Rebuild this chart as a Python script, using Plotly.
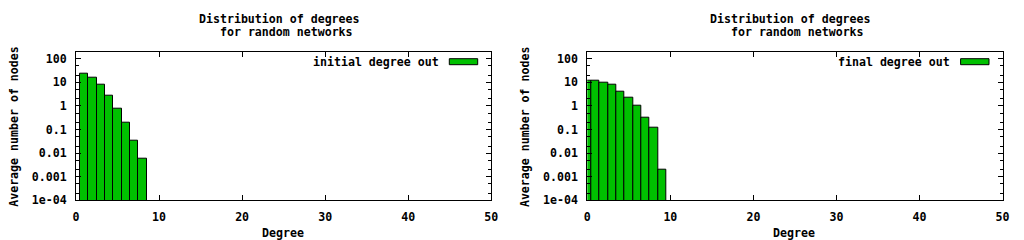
import plotly.graph_objects as go

# ---- data ----
initial_degree = [1, 2, 3, 4, 5, 6, 7, 8]
initial_count = [23.6, 16.0, 8.1, 2.76, 0.78, 0.198, 0.034, 0.0059]

final_degree = [0, 1, 2, 3, 4, 5, 6, 7, 8, 9]
final_count = [11.9, 11.9, 9.8, 8.1, 4.1, 2.27, 1.04, 0.32, 0.122, 0.002]

y_tickvals = [1e-4, 1e-3, 1e-2, 1e-1, 1, 10, 100]
y_ticktext = ["1e-04", "0.001", "0.01", "0.1", "1", "10", "100"]
x_tickvals = [0, 10, 20, 30, 40, 50]

title_line1 = "Distribution of degrees"
title_line2 = "\u00a0\u00a0for random networks"
x_title = "Degree"
y_title = "Average number of nodes"
series_names = ["initial degree out", "final degree out"]

# ---- style ----
W, H = 1024, 240
FONT = dict(family="DejaVu Sans Mono", size=11.6, color="black", weight="bold")
GREEN = "#00c000"

fig = go.Figure()

panels = [
    dict(deg=initial_degree, cnt=initial_count, name=series_names[0], x0=76.0),
    dict(deg=final_degree, cnt=final_count, name=series_names[1], x0=587.3),
]
plot_w = 415.3
top_px, bot_px = 51.7, 200.3

def px(x):
    return x / W

def py(y):
    return 1 - y / H

annotations = []
shapes = []
for i, p in enumerate(panels):
    sfx = "" if i == 0 else str(i + 1)
    fig.add_trace(go.Bar(
        x=p["deg"], y=p["cnt"], width=1,
        marker=dict(color=GREEN, line=dict(color="black", width=1)),
        name=p["name"], showlegend=False,
        xaxis="x" + sfx, yaxis="y" + sfx,
    ))
    x0 = p["x0"]
    x1 = x0 + plot_w
    common = dict(showline=True, linecolor="black", linewidth=1, mirror="allticks",
                  ticks="inside", tickcolor="black", tickwidth=1, automargin=False,
                  showgrid=False, zeroline=False, tickfont=FONT)
    fig.update_layout(**{
        "xaxis" + sfx: dict(domain=[px(x0), px(x1)], range=[0, 50],
                            anchor="y" + sfx, tickmode="array", tickvals=x_tickvals,
                            ticklen=5, ticklabelstandoff=6, **common),
        "yaxis" + sfx: dict(domain=[py(bot_px), py(top_px)], type="log",
                            range=[-4, 2.297], anchor="x" + sfx,
                            tickmode="array", tickvals=y_tickvals, ticktext=y_ticktext,
                            ticklen=5, ticklabelstandoff=6,
                            minor=dict(ticks="inside", dtick="D2", ticklen=3,
                                       tickcolor="black", tickwidth=1, showgrid=False),
                            **common),
    })
    cx = x0 + 203
    annotations += [
        dict(text=title_line1, x=px(cx), y=py(19), xref="paper", yref="paper",
             showarrow=False, xanchor="center", yanchor="middle", font=FONT),
        dict(text=title_line2, x=px(cx), y=py(32.5), xref="paper", yref="paper",
             showarrow=False, xanchor="center", yanchor="middle", font=FONT),
        dict(text=x_title, x=px(x0 + 206.5), y=py(232.7), xref="paper", yref="paper",
             showarrow=False, xanchor="center", yanchor="middle", font=FONT),
        dict(text=y_title, x=px(x0 - 62.7), y=py(126.5), xref="paper", yref="paper",
             showarrow=False, xanchor="center", yanchor="middle", textangle=-90, font=FONT),
        dict(text=p["name"], x=px(x0 + 364.7), y=py(62), xref="paper", yref="paper",
             showarrow=False, xanchor="right", yanchor="middle", font=FONT),
    ]
    shapes.append(dict(type="rect", xref="paper", yref="paper",
                       x0=px(x0 + 373.3), x1=px(x0 + 401.7), y0=py(64.7), y1=py(58.7),
                       fillcolor=GREEN, line=dict(color="black", width=1)))

fig.update_layout(
    template="none",
    width=W, height=H, margin=dict(l=0, r=0, t=0, b=0, pad=0, autoexpand=False),
    paper_bgcolor="white", plot_bgcolor="white", showlegend=False,
    bargap=0, annotations=annotations, shapes=shapes, font=FONT,
)

fig.write_html("out.html")
